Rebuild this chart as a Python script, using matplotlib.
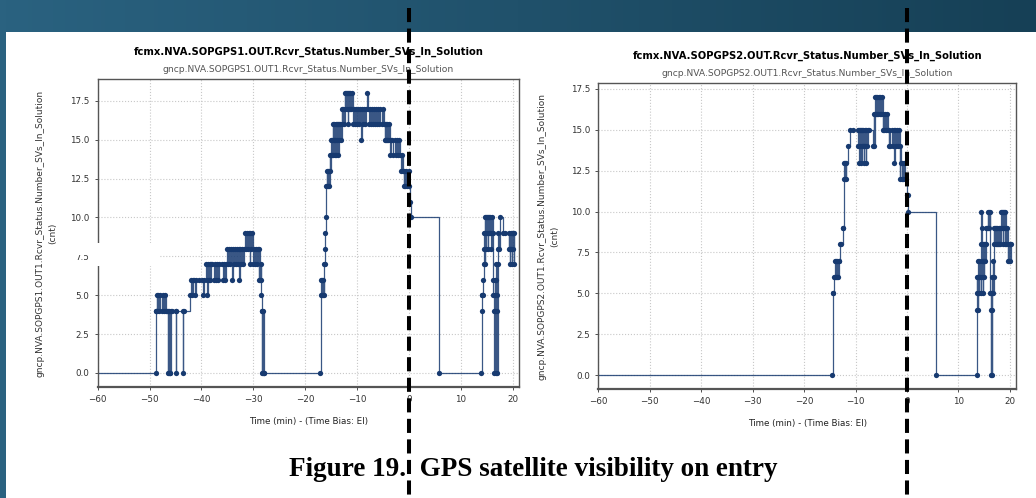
import numpy as np
import matplotlib.pyplot as plt
from matplotlib.patches import Rectangle

W, H = 1036, 498

# number of SVs in solution, (time min, count) samples
gps1 = [(-60, 0), (-48.8, 0), (-48.75, 4), (-48.7, 4), (-48.6, 5), (-48.5, 4), (-48.3, 5),
        (-48.1, 4), (-47.9, 5), (-47.7, 4), (-47.5, 5), (-47.3, 4), (-47.1, 5), (-46.9, 4),
        (-46.7, 4), (-46.45, 0), (-46.4, 4), (-46.3, 0), (-46.2, 4), (-46.1, 0), (-46.0, 0),
        (-45.95, 4), (-45.6, 4), (-45.0, 0), (-44.95, 4), (-44.9, 4), (-43.6, 0), (-43.55, 4),
        (-43.3, 4), (-42.2, 5), (-42.0, 6), (-41.8, 5), (-41.6, 6), (-41.4, 6), (-41.2, 5),
        (-41.0, 6), (-40.5, 6), (-39.9, 6), (-39.7, 5), (-39.5, 6), (-39.2, 7), (-39.0, 6),
        (-38.85, 5), (-38.75, 7), (-38.6, 6), (-38.45, 7), (-38.3, 6), (-38.15, 7), (-37.9, 7),
        (-37.6, 6), (-37.4, 7), (-37.2, 6), (-37.0, 7), (-36.8, 6), (-36.6, 7), (-36.0, 7),
        (-35.8, 6), (-35.6, 7), (-35.4, 6), (-35.2, 7), (-35.0, 8), (-34.9, 7), (-34.7, 8),
        (-34.5, 7), (-34.3, 8), (-34.1, 6), (-34.0, 8), (-33.8, 7), (-33.6, 8), (-33.4, 7),
        (-33.2, 8), (-33.0, 7), (-32.8, 8), (-32.7, 6), (-32.6, 8), (-32.4, 7), (-32.2, 8),
        (-32.0, 7), (-31.8, 8), (-31.7, 9), (-31.5, 8), (-31.3, 9), (-31.1, 8), (-30.9, 9),
        (-30.7, 7), (-30.6, 9), (-30.4, 8), (-30.2, 9), (-30.1, 7), (-29.9, 8), (-29.7, 7),
        (-29.5, 8), (-29.3, 7), (-29.1, 8), (-29.0, 6), (-28.9, 8), (-28.75, 6), (-28.6, 7),
        (-28.5, 6), (-28.45, 5), (-28.4, 4), (-28.3, 0), (-28.25, 4), (-28.15, 0), (-28.1, 4),
        (-28.0, 0), (-27.9, 0),
        (-17.1, 0), (-17.05, 5), (-16.95, 6), (-16.85, 5), (-16.7, 6), (-16.6, 5), (-16.5, 6),
        (-16.4, 5), (-16.35, 7), (-16.25, 8), (-16.15, 7), (-16.1, 9), (-16.0, 10), (-15.95, 12),
        (-15.85, 13), (-15.75, 12), (-15.65, 13), (-15.55, 12), (-15.45, 13), (-15.35, 12),
        (-15.25, 14), (-15.2, 13), (-15.1, 14), (-15.0, 15), (-14.9, 14), (-14.8, 15), (-14.7, 16),
        (-14.6, 14), (-14.5, 15), (-14.4, 16), (-14.3, 14), (-14.2, 15), (-14.1, 16), (-14.0, 14),
        (-13.9, 16), (-13.8, 15), (-13.7, 16), (-13.6, 14), (-13.5, 16), (-13.4, 15), (-13.3, 16),
        (-13.1, 15), (-13.0, 17), (-12.9, 16), (-12.8, 17), (-12.6, 16), (-12.4, 18), (-12.3, 17),
        (-12.2, 18), (-12.0, 17), (-11.9, 18), (-11.8, 16), (-11.7, 18), (-11.6, 17), (-11.5, 18),
        (-11.4, 17), (-11.3, 18), (-11.1, 17), (-11.0, 18), (-10.8, 16), (-10.7, 17), (-10.5, 16),
        (-10.3, 17), (-10.1, 16), (-9.9, 17), (-9.7, 16), (-9.4, 17), (-9.2, 15), (-9.1, 17),
        (-8.9, 16), (-8.7, 17), (-8.5, 16), (-8.3, 17), (-8.1, 18), (-7.9, 17), (-7.7, 16),
        (-7.5, 17), (-7.3, 16), (-7.1, 17), (-6.9, 16), (-6.7, 17), (-6.5, 16), (-6.3, 17),
        (-6.1, 16), (-5.9, 17), (-5.7, 16), (-5.5, 17), (-5.3, 16), (-5.1, 17), (-4.9, 16),
        (-4.7, 15), (-4.6, 16), (-4.5, 15), (-4.4, 16), (-4.3, 15), (-4.2, 16), (-4.1, 15),
        (-3.9, 16), (-3.75, 15), (-3.6, 14), (-3.5, 15), (-3.2, 15), (-3.0, 14), (-2.8, 15),
        (-2.6, 14), (-2.4, 15), (-2.2, 14), (-2.0, 15), (-1.8, 14), (-1.6, 13), (-1.4, 14),
        (-1.2, 13), (-1.0, 12), (-0.9, 13), (-0.7, 12), (-0.5, 13), (-0.3, 12), (-0.1, 13),
        (0.05, 12), (0.15, 11), (0.3, 10), (5.75, 0),
        (13.95, 0), (14.0, 5), (14.1, 4), (14.15, 5), (14.3, 5), (14.35, 6), (14.4, 7), (14.45, 8),
        (14.5, 9), (14.55, 7), (14.6, 10), (14.7, 9), (14.8, 8), (14.9, 10), (15.0, 9), (15.1, 10),
        (15.2, 8), (15.3, 10), (15.4, 9), (15.5, 10), (15.6, 9), (15.7, 10), (15.8, 8), (15.9, 9),
        (16.0, 10), (16.1, 9), (16.2, 6), (16.25, 5), (16.3, 4), (16.35, 0), (16.5, 5), (16.55, 6),
        (16.6, 4), (16.7, 0), (16.8, 6), (16.85, 7), (16.9, 5), (16.95, 4), (17.0, 0), (17.1, 7),
        (17.15, 8), (17.2, 9), (17.3, 8), (17.45, 10), (18.1, 9), (18.4, 9), (19.2, 8), (19.3, 9),
        (19.4, 7), (19.5, 8), (19.6, 9), (19.7, 8), (19.8, 7), (19.9, 9), (20.0, 8), (20.1, 9),
        (20.2, 7), (20.3, 9)]

gps2 = [(-60, 0), (-14.5, 0), (-14.45, 5), (-14.3, 5), (-14.2, 6), (-14.0, 6), (-13.9, 7),
        (-13.8, 6), (-13.7, 7), (-13.6, 6), (-13.5, 7), (-13.4, 6), (-13.3, 7), (-13.2, 7),
        (-13.05, 8), (-12.8, 8), (-12.5, 9), (-12.4, 9), (-12.25, 12), (-12.2, 13), (-12.1, 12),
        (-12.0, 13), (-11.9, 12), (-11.8, 13), (-11.55, 14), (-11.0, 15), (-10.5, 15), (-9.6, 15),
        (-9.5, 14), (-9.4, 15), (-9.3, 13), (-9.2, 15), (-9.1, 14), (-9.0, 15), (-8.9, 13),
        (-8.8, 14), (-8.7, 15), (-8.6, 14), (-8.5, 15), (-8.4, 13), (-8.3, 14), (-8.2, 15),
        (-8.1, 14), (-8.0, 13), (-7.9, 15), (-7.8, 14), (-7.6, 15), (-7.35, 15), (-6.65, 14),
        (-6.5, 16), (-6.4, 14), (-6.3, 16), (-6.2, 17), (-6.1, 16), (-6.0, 17), (-5.9, 16),
        (-5.8, 17), (-5.6, 16), (-5.5, 17), (-5.3, 16), (-5.2, 17), (-5.0, 16), (-4.9, 17),
        (-4.7, 15), (-4.6, 16), (-4.4, 15), (-4.2, 16), (-4.0, 15), (-3.8, 16), (-3.6, 15),
        (-3.5, 14), (-3.4, 15), (-3.2, 14), (-3.0, 15), (-2.8, 14), (-2.6, 15), (-2.5, 13),
        (-2.4, 15), (-2.2, 14), (-2.0, 15), (-1.8, 14), (-1.6, 15), (-1.4, 12), (-1.3, 14),
        (-1.2, 13), (-1.0, 12), (-0.9, 13), (-0.7, 12), (-0.5, 13), (-0.3, 12), (-0.1, 12),
        (0.05, 11), (0.2, 11), (0.3, 10), (5.7, 0),
        (13.55, 0), (13.6, 4), (13.65, 6), (13.7, 5), (13.75, 4), (13.8, 6), (13.85, 5), (13.9, 7),
        (13.95, 6), (14.0, 5), (14.1, 7), (14.2, 6), (14.3, 8), (14.35, 5), (14.45, 10), (14.5, 9),
        (14.55, 7), (14.6, 6), (14.7, 8), (14.75, 5), (14.8, 7), (14.9, 8), (15.0, 6), (15.05, 7),
        (15.1, 8), (15.2, 7), (15.3, 8), (15.4, 9), (15.6, 9), (15.7, 10), (15.8, 9), (15.9, 10),
        (16.0, 9), (16.1, 10), (16.2, 5), (16.25, 4), (16.3, 0), (16.4, 5), (16.45, 4), (16.5, 0),
        (16.55, 6), (16.6, 5), (16.7, 7), (16.75, 5), (16.85, 6), (16.9, 9), (17.0, 8), (17.2, 9),
        (17.3, 8), (17.4, 9), (17.5, 8), (17.6, 9), (17.7, 8), (17.8, 9), (17.9, 8), (18.0, 9),
        (18.1, 8), (18.3, 10), (18.4, 9), (18.5, 10), (18.6, 8), (18.7, 10), (18.8, 9), (18.9, 10),
        (19.0, 8), (19.1, 10), (19.2, 9), (19.3, 8), (19.45, 9), (19.55, 7), (19.65, 8), (19.8, 7),
        (19.95, 8), (20.1, 7), (20.2, 8)]

titles = ["fcmx.NVA.SOPGPS1.OUT.Rcvr_Status.Number_SVs_In_Solution",
          "fcmx.NVA.SOPGPS2.OUT.Rcvr_Status.Number_SVs_In_Solution"]
subtitles = ["gncp.NVA.SOPGPS1.OUT1.Rcvr_Status.Number_SVs_In_Solution",
             "gncp.NVA.SOPGPS2.OUT1.Rcvr_Status.Number_SVs_In_Solution"]
ylabels = [s + "\n(cnt)" for s in subtitles]
xlabel = "Time (min) - (Time Bias: EI)"
xticks = [-60, -50, -40, -30, -20, -10, 0, 10, 20]
yticks = [0, 2.5, 5, 7.5, 10, 12.5, 15, 17.5]
entry_time = 0  # dashed marker drawn over the slide
caption = "Figure 19.  GPS satellite visibility on entry"

navy = '#173a70'
fig = plt.figure(figsize=(W / 100, H / 100), dpi=100)
fig.patch.set_facecolor('white')

# slide background: gradient band on top, strip on the left
bg = fig.add_axes([0, 0, 1, 1], zorder=-10)
bg.set_xlim(0, W); bg.set_ylim(H, 0); bg.axis('off')
c0 = np.array([42, 98, 128]) / 255
c1 = np.array([22, 64, 86]) / 255
grad = np.linspace(0, 1, 256)[None, :, None]
band = c0 + (c1 - c0) * grad
bg.imshow(band, extent=[0, W, 32, 0], aspect='auto')
bg.add_patch(Rectangle((0, 0), 6, H, color=c0, lw=0))

positions = [[0.0943, 0.2229, 0.4067, 0.6185], [0.5775, 0.2189, 0.4032, 0.6139]]
label_x = [-0.097, -0.094]
axes = []
for i, (data, pos) in enumerate(zip([gps1, gps2], positions)):
    ax = fig.add_axes(pos)
    t = [p[0] for p in data]
    n = [p[1] for p in data]
    ax.plot(t, n, drawstyle='steps-post', color=navy, lw=0.9, alpha=0.85)
    ax.plot(t[1:], n[1:], 'o', color=navy, ms=3.8, mew=0)
    ax.set_xlim(-60, 21.2)
    ax.margins(y=0.05)
    ax.set_xticks(xticks)
    ax.set_yticks(yticks)
    ax.grid(True, color='#c8c8c8', ls=':', lw=0.8)
    ax.tick_params(labelsize=6.3, colors='#333333', length=2.5, width=0.6)
    for s in ax.spines.values():
        s.set_color('#555555')
        s.set_linewidth(1.0)
    ax.spines['bottom'].set_linewidth(1.6)
    ax.set_title(subtitles[i], fontsize=6.6, color='#555555', pad=5)
    ax.text(0.5, 1.0 + 27 / (pos[3] * H), titles[i], transform=ax.transAxes,
            ha='center', va='center', fontsize=7.2, fontweight='bold')
    ax.set_ylabel(ylabels[i], fontsize=6.5, color='#333333', linespacing=1.5)
    ax.yaxis.set_label_coords(label_x[i], 0.5)
    ax.set_xlabel(xlabel, fontsize=6.3, color='#222222', labelpad=9)
    axes.append(ax)

fig.text(0.515, 0.058, caption, ha='center', va='center', fontsize=19.5,
         fontweight='bold', family='Liberation Serif')

# overlay: white patch and dashed entry markers
ov = fig.add_axes([0, 0, 1, 1], zorder=10)
ov.set_xlim(0, W); ov.set_ylim(H, 0); ov.axis('off')
ov.patch.set_alpha(0)
ov.add_patch(Rectangle((68, 243), 92, 12, color='white', lw=0))
ov.add_patch(Rectangle((95, 243), 65, 23, color='white', lw=0))
for ax in axes:
    xpix = ax.transData.transform((entry_time, 0))[0]
    ov.plot([xpix, xpix], [8, H], color='black', lw=2.9, ls=(0, (3.5, 1.6)),
            solid_capstyle='butt', dash_capstyle='butt')

fig.savefig('out.png', dpi=100)
